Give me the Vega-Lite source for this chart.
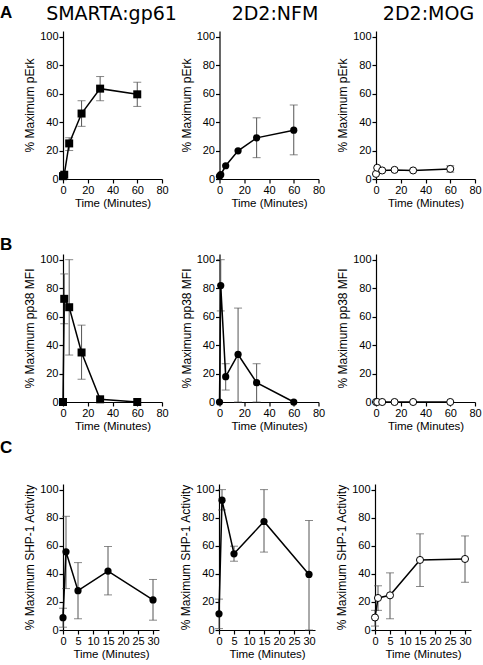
{
"$schema": "https://vega.github.io/schema/vega-lite/v6.json",
"padding": {"left": 0, "top": 3, "right": 2, "bottom": 2},
"datasets": {"d": [
{"p":"A1","t":0,"y":2},{"p":"A1","t":1,"y":3},{"p":"A1","t":5,"y":25,"lo":20,"hi":29},{"p":"A1","t":15,"y":46,"lo":37,"hi":55},{"p":"A1","t":30,"y":63.5,"lo":55,"hi":72},{"p":"A1","t":60,"y":59.5,"lo":51,"hi":68},
{"p":"A2","t":0,"y":2},{"p":"A2","t":1,"y":3},{"p":"A2","t":5,"y":9.3},{"p":"A2","t":15,"y":19.8},{"p":"A2","t":30,"y":28.9,"lo":15,"hi":43},{"p":"A2","t":60,"y":34.3,"lo":17,"hi":52},
{"p":"A3","t":0,"y":3.6},{"p":"A3","t":1,"y":7.9},{"p":"A3","t":5,"y":6},{"p":"A3","t":15,"y":6.4},{"p":"A3","t":30,"y":6},{"p":"A3","t":60,"y":7.1,"lo":4.8,"hi":9.3},
{"p":"B1","t":0,"y":0},{"p":"B1","t":1,"y":72.5,"lo":55,"hi":90},{"p":"B1","t":5,"y":66.6,"lo":33,"hi":100},{"p":"B1","t":15,"y":34.8,"lo":16,"hi":54},{"p":"B1","t":30,"y":1.9},{"p":"B1","t":60,"y":0},
{"p":"B2","t":0,"y":0},{"p":"B2","t":1,"y":81.8,"lo":64,"hi":100},{"p":"B2","t":5,"y":17.8,"lo":8.4,"hi":26.9},{"p":"B2","t":15,"y":33.4,"lo":0,"hi":66},{"p":"B2","t":30,"y":13.6,"lo":0,"hi":26.9},{"p":"B2","t":60,"y":0},
{"p":"B3","t":0,"y":0},{"p":"B3","t":1,"y":0},{"p":"B3","t":5,"y":0},{"p":"B3","t":15,"y":0},{"p":"B3","t":30,"y":0},{"p":"B3","t":60,"y":0},
{"p":"C1","t":0,"y":8.8,"lo":2,"hi":15.5},{"p":"C1","t":1,"y":55.7,"lo":29.5,"hi":81},{"p":"C1","t":5,"y":28,"lo":8,"hi":48},{"p":"C1","t":15,"y":42,"lo":25,"hi":59.5},{"p":"C1","t":30,"y":21.4,"lo":7,"hi":36},
{"p":"C2","t":0,"y":11.5,"lo":1,"hi":22},{"p":"C2","t":1,"y":92.5,"lo":85.5,"hi":100},{"p":"C2","t":5,"y":54.3,"lo":49,"hi":59.7},{"p":"C2","t":15,"y":77.3,"lo":55.5,"hi":100},{"p":"C2","t":30,"y":39.6,"lo":0,"hi":78},
{"p":"C3","t":0,"y":8.9,"lo":2.8,"hi":14},{"p":"C3","t":1,"y":22.8,"lo":14,"hi":31.5},{"p":"C3","t":5,"y":24.7,"lo":8,"hi":40.7},{"p":"C3","t":15,"y":49.9,"lo":31,"hi":68.5},{"p":"C3","t":30,"y":50.6,"lo":34,"hi":67}
]},
"vconcat": [
{
"hconcat": [
{"width":99,"height":148,"title":{"text":"SMARTA:gp61","frame":"group","dx":-1},"data":{"name":"d"},"transform":[{"filter":"datum.p==='A1'"}],
"encoding":{"x":{"field":"t","type":"quantitative","scale":{"domain":[0,80],"nice":false},"axis":{"values":[0,20,40,60,80],"title":"Time (Minutes)"}}},
"layer":[
{"transform":[{"filter":"isValid(datum.lo)"}],"mark":{"type":"rule","color":"#555","strokeWidth":1},"encoding":{"y":{"field":"lo","type":"quantitative","title":"% Maximum pErk","scale":{"domain":[0,104],"nice":false},"axis":{"values":[0,20,40,60,80,100]}},"y2":{"field":"hi"}}},
{"transform":[{"filter":"isValid(datum.lo)"}],"mark":{"type":"tick","orient":"horizontal","color":"#555","size":8,"thickness":1},"encoding":{"y":{"field":"lo","type":"quantitative","title":"% Maximum pErk","scale":{"domain":[0,104],"nice":false},"axis":{"values":[0,20,40,60,80,100]}}}},
{"transform":[{"filter":"isValid(datum.hi)"}],"mark":{"type":"tick","orient":"horizontal","color":"#555","size":8,"thickness":1},"encoding":{"y":{"field":"hi","type":"quantitative","title":"% Maximum pErk","scale":{"domain":[0,104],"nice":false},"axis":{"values":[0,20,40,60,80,100]}}}},
{"mark":{"type":"line","color":"#000","strokeWidth":1.5},"encoding":{"y":{"field":"y","type":"quantitative","title":"% Maximum pErk","scale":{"domain":[0,104],"nice":false},"axis":{"values":[0,20,40,60,80,100]}}}},
{"mark":{"type":"point","shape":"square","filled":true,"color":"#000","opacity":1,"size":64},"encoding":{"y":{"field":"y","type":"quantitative","title":"% Maximum pErk","scale":{"domain":[0,104],"nice":false},"axis":{"values":[0,20,40,60,80,100]}}}}
]},
{"width":99,"height":148,"title":{"text":"2D2:NFM","frame":"group","dx":6},"data":{"name":"d"},"transform":[{"filter":"datum.p==='A2'"}],
"encoding":{"x":{"field":"t","type":"quantitative","scale":{"domain":[0,80],"nice":false},"axis":{"values":[0,20,40,60,80],"title":"Time (Minutes)"}}},
"layer":[
{"transform":[{"filter":"isValid(datum.lo)"}],"mark":{"type":"rule","color":"#555","strokeWidth":1},"encoding":{"y":{"field":"lo","type":"quantitative","title":"% Maximum pErk","scale":{"domain":[0,104],"nice":false},"axis":{"values":[0,20,40,60,80,100]}},"y2":{"field":"hi"}}},
{"transform":[{"filter":"isValid(datum.lo)"}],"mark":{"type":"tick","orient":"horizontal","color":"#555","size":8,"thickness":1},"encoding":{"y":{"field":"lo","type":"quantitative","title":"% Maximum pErk","scale":{"domain":[0,104],"nice":false},"axis":{"values":[0,20,40,60,80,100]}}}},
{"transform":[{"filter":"isValid(datum.hi)"}],"mark":{"type":"tick","orient":"horizontal","color":"#555","size":8,"thickness":1},"encoding":{"y":{"field":"hi","type":"quantitative","title":"% Maximum pErk","scale":{"domain":[0,104],"nice":false},"axis":{"values":[0,20,40,60,80,100]}}}},
{"mark":{"type":"line","color":"#000","strokeWidth":1.5},"encoding":{"y":{"field":"y","type":"quantitative","title":"% Maximum pErk","scale":{"domain":[0,104],"nice":false},"axis":{"values":[0,20,40,60,80,100]}}}},
{"mark":{"type":"point","shape":"circle","filled":true,"color":"#000","opacity":1,"size":52},"encoding":{"y":{"field":"y","type":"quantitative","title":"% Maximum pErk","scale":{"domain":[0,104],"nice":false},"axis":{"values":[0,20,40,60,80,100]}}}}
]},
{"width":99,"height":148,"title":{"text":"2D2:MOG","frame":"group","dx":3},"data":{"name":"d"},"transform":[{"filter":"datum.p==='A3'"}],
"encoding":{"x":{"field":"t","type":"quantitative","scale":{"domain":[0,80],"nice":false},"axis":{"values":[0,20,40,60,80],"title":"Time (Minutes)"}}},
"layer":[
{"transform":[{"filter":"isValid(datum.lo)"}],"mark":{"type":"rule","color":"#555","strokeWidth":1},"encoding":{"y":{"field":"lo","type":"quantitative","title":"% Maximum pErk","scale":{"domain":[0,104],"nice":false},"axis":{"values":[0,20,40,60,80,100]}},"y2":{"field":"hi"}}},
{"transform":[{"filter":"isValid(datum.lo)"}],"mark":{"type":"tick","orient":"horizontal","color":"#555","size":8,"thickness":1},"encoding":{"y":{"field":"lo","type":"quantitative","title":"% Maximum pErk","scale":{"domain":[0,104],"nice":false},"axis":{"values":[0,20,40,60,80,100]}}}},
{"transform":[{"filter":"isValid(datum.hi)"}],"mark":{"type":"tick","orient":"horizontal","color":"#555","size":8,"thickness":1},"encoding":{"y":{"field":"hi","type":"quantitative","title":"% Maximum pErk","scale":{"domain":[0,104],"nice":false},"axis":{"values":[0,20,40,60,80,100]}}}},
{"mark":{"type":"line","color":"#000","strokeWidth":1.5},"encoding":{"y":{"field":"y","type":"quantitative","title":"% Maximum pErk","scale":{"domain":[0,104],"nice":false},"axis":{"values":[0,20,40,60,80,100]}}}},
{"mark":{"type":"point","shape":"circle","filled":true,"fill":"#fff","stroke":"#000","strokeWidth":1,"opacity":1,"size":50},"encoding":{"y":{"field":"y","type":"quantitative","title":"% Maximum pErk","scale":{"domain":[0,104],"nice":false},"axis":{"values":[0,20,40,60,80,100]}}}}
]}
],
"spacing": 57.5, "bounds": "flush",
"title": {"text":"A","orient":"left","angle":0,"anchor":"end","align":"right","baseline":"top","font":"Liberation Sans","fontSize":17,"fontWeight":"bold","offset":-1}
},
{
"vconcat": [
{
"hconcat": [
{"width":99,"height":148,"data":{"name":"d"},"transform":[{"filter":"datum.p==='B1'"}],
"encoding":{"x":{"field":"t","type":"quantitative","scale":{"domain":[0,80],"nice":false},"axis":{"values":[0,20,40,60,80],"title":"Time (Minutes)"}}},
"layer":[
{"transform":[{"filter":"isValid(datum.lo)"}],"mark":{"type":"rule","color":"#555","strokeWidth":1},"encoding":{"y":{"field":"lo","type":"quantitative","title":"% Maximum pp38 MFI","scale":{"domain":[0,104],"nice":false},"axis":{"values":[0,20,40,60,80,100]}},"y2":{"field":"hi"}}},
{"transform":[{"filter":"isValid(datum.lo)"}],"mark":{"type":"tick","orient":"horizontal","color":"#555","size":8,"thickness":1},"encoding":{"y":{"field":"lo","type":"quantitative","title":"% Maximum pp38 MFI","scale":{"domain":[0,104],"nice":false},"axis":{"values":[0,20,40,60,80,100]}}}},
{"transform":[{"filter":"isValid(datum.hi)"}],"mark":{"type":"tick","orient":"horizontal","color":"#555","size":8,"thickness":1},"encoding":{"y":{"field":"hi","type":"quantitative","title":"% Maximum pp38 MFI","scale":{"domain":[0,104],"nice":false},"axis":{"values":[0,20,40,60,80,100]}}}},
{"mark":{"type":"line","color":"#000","strokeWidth":1.5},"encoding":{"y":{"field":"y","type":"quantitative","title":"% Maximum pp38 MFI","scale":{"domain":[0,104],"nice":false},"axis":{"values":[0,20,40,60,80,100]}}}},
{"mark":{"type":"point","shape":"square","filled":true,"color":"#000","opacity":1,"size":64},"encoding":{"y":{"field":"y","type":"quantitative","title":"% Maximum pp38 MFI","scale":{"domain":[0,104],"nice":false},"axis":{"values":[0,20,40,60,80,100]}}}}
]},
{"width":99,"height":148,"data":{"name":"d"},"transform":[{"filter":"datum.p==='B2'"}],
"encoding":{"x":{"field":"t","type":"quantitative","scale":{"domain":[0,80],"nice":false},"axis":{"values":[0,20,40,60,80],"title":"Time (Minutes)"}}},
"layer":[
{"transform":[{"filter":"isValid(datum.lo)"}],"mark":{"type":"rule","color":"#555","strokeWidth":1},"encoding":{"y":{"field":"lo","type":"quantitative","title":"% Maximum pp38 MFI","scale":{"domain":[0,104],"nice":false},"axis":{"values":[0,20,40,60,80,100]}},"y2":{"field":"hi"}}},
{"transform":[{"filter":"isValid(datum.lo)"}],"mark":{"type":"tick","orient":"horizontal","color":"#555","size":8,"thickness":1},"encoding":{"y":{"field":"lo","type":"quantitative","title":"% Maximum pp38 MFI","scale":{"domain":[0,104],"nice":false},"axis":{"values":[0,20,40,60,80,100]}}}},
{"transform":[{"filter":"isValid(datum.hi)"}],"mark":{"type":"tick","orient":"horizontal","color":"#555","size":8,"thickness":1},"encoding":{"y":{"field":"hi","type":"quantitative","title":"% Maximum pp38 MFI","scale":{"domain":[0,104],"nice":false},"axis":{"values":[0,20,40,60,80,100]}}}},
{"mark":{"type":"line","color":"#000","strokeWidth":1.5},"encoding":{"y":{"field":"y","type":"quantitative","title":"% Maximum pp38 MFI","scale":{"domain":[0,104],"nice":false},"axis":{"values":[0,20,40,60,80,100]}}}},
{"mark":{"type":"point","shape":"circle","filled":true,"color":"#000","opacity":1,"size":52},"encoding":{"y":{"field":"y","type":"quantitative","title":"% Maximum pp38 MFI","scale":{"domain":[0,104],"nice":false},"axis":{"values":[0,20,40,60,80,100]}}}}
]},
{"width":99,"height":148,"data":{"name":"d"},"transform":[{"filter":"datum.p==='B3'"}],
"encoding":{"x":{"field":"t","type":"quantitative","scale":{"domain":[0,80],"nice":false},"axis":{"values":[0,20,40,60,80],"title":"Time (Minutes)"}}},
"layer":[
{"mark":{"type":"line","color":"#000","strokeWidth":1.5},"encoding":{"y":{"field":"y","type":"quantitative","title":"% Maximum pp38 MFI","scale":{"domain":[0,104],"nice":false},"axis":{"values":[0,20,40,60,80,100]}}}},
{"mark":{"type":"point","shape":"circle","filled":true,"fill":"#fff","stroke":"#000","strokeWidth":1,"opacity":1,"size":50},"encoding":{"y":{"field":"y","type":"quantitative","title":"% Maximum pp38 MFI","scale":{"domain":[0,104],"nice":false},"axis":{"values":[0,20,40,60,80,100]}}}}
]}
],
"spacing": 57.5, "bounds": "flush",
"title": {"text":"B","orient":"left","angle":0,"anchor":"end","align":"right","baseline":"top","font":"Liberation Sans","fontSize":17,"fontWeight":"bold","offset":-1,"dy":-17}
},
{
"hconcat": [
{"width":96,"height":146,"data":{"name":"d"},"transform":[{"filter":"datum.p==='C1'"}],
"encoding":{"x":{"field":"t","type":"quantitative","scale":{"domain":[0,32],"nice":false},"axis":{"values":[0,5,10,15,20,25,30],"title":"Time (Minutes)"}}},
"layer":[
{"transform":[{"filter":"isValid(datum.lo)"}],"mark":{"type":"rule","color":"#555","strokeWidth":1},"encoding":{"y":{"field":"lo","type":"quantitative","title":"% Maximum SHP-1 Activity","scale":{"domain":[0,104],"nice":false},"axis":{"values":[0,20,40,60,80,100]}},"y2":{"field":"hi"}}},
{"transform":[{"filter":"isValid(datum.lo)"}],"mark":{"type":"tick","orient":"horizontal","color":"#555","size":8,"thickness":1},"encoding":{"y":{"field":"lo","type":"quantitative","title":"% Maximum SHP-1 Activity","scale":{"domain":[0,104],"nice":false},"axis":{"values":[0,20,40,60,80,100]}}}},
{"transform":[{"filter":"isValid(datum.hi)"}],"mark":{"type":"tick","orient":"horizontal","color":"#555","size":8,"thickness":1},"encoding":{"y":{"field":"hi","type":"quantitative","title":"% Maximum SHP-1 Activity","scale":{"domain":[0,104],"nice":false},"axis":{"values":[0,20,40,60,80,100]}}}},
{"mark":{"type":"line","color":"#000","strokeWidth":1.5},"encoding":{"y":{"field":"y","type":"quantitative","title":"% Maximum SHP-1 Activity","scale":{"domain":[0,104],"nice":false},"axis":{"values":[0,20,40,60,80,100]}}}},
{"mark":{"type":"point","shape":"circle","filled":true,"color":"#000","opacity":1,"size":52},"encoding":{"y":{"field":"y","type":"quantitative","title":"% Maximum SHP-1 Activity","scale":{"domain":[0,104],"nice":false},"axis":{"values":[0,20,40,60,80,100]}}}}
]},
{"width":96,"height":146,"data":{"name":"d"},"transform":[{"filter":"datum.p==='C2'"}],
"encoding":{"x":{"field":"t","type":"quantitative","scale":{"domain":[0,32],"nice":false},"axis":{"values":[0,5,10,15,20,25,30],"title":"Time (Minutes)"}}},
"layer":[
{"transform":[{"filter":"isValid(datum.lo)"}],"mark":{"type":"rule","color":"#555","strokeWidth":1},"encoding":{"y":{"field":"lo","type":"quantitative","title":"% Maximum SHP-1 Activity","scale":{"domain":[0,104],"nice":false},"axis":{"values":[0,20,40,60,80,100]}},"y2":{"field":"hi"}}},
{"transform":[{"filter":"isValid(datum.lo)"}],"mark":{"type":"tick","orient":"horizontal","color":"#555","size":8,"thickness":1},"encoding":{"y":{"field":"lo","type":"quantitative","title":"% Maximum SHP-1 Activity","scale":{"domain":[0,104],"nice":false},"axis":{"values":[0,20,40,60,80,100]}}}},
{"transform":[{"filter":"isValid(datum.hi)"}],"mark":{"type":"tick","orient":"horizontal","color":"#555","size":8,"thickness":1},"encoding":{"y":{"field":"hi","type":"quantitative","title":"% Maximum SHP-1 Activity","scale":{"domain":[0,104],"nice":false},"axis":{"values":[0,20,40,60,80,100]}}}},
{"mark":{"type":"line","color":"#000","strokeWidth":1.5},"encoding":{"y":{"field":"y","type":"quantitative","title":"% Maximum SHP-1 Activity","scale":{"domain":[0,104],"nice":false},"axis":{"values":[0,20,40,60,80,100]}}}},
{"mark":{"type":"point","shape":"circle","filled":true,"color":"#000","opacity":1,"size":52},"encoding":{"y":{"field":"y","type":"quantitative","title":"% Maximum SHP-1 Activity","scale":{"domain":[0,104],"nice":false},"axis":{"values":[0,20,40,60,80,100]}}}}
]},
{"width":96,"height":146,"data":{"name":"d"},"transform":[{"filter":"datum.p==='C3'"}],
"encoding":{"x":{"field":"t","type":"quantitative","scale":{"domain":[0,32],"nice":false},"axis":{"values":[0,5,10,15,20,25,30],"title":"Time (Minutes)"}}},
"layer":[
{"transform":[{"filter":"isValid(datum.lo)"}],"mark":{"type":"rule","color":"#555","strokeWidth":1},"encoding":{"y":{"field":"lo","type":"quantitative","title":"% Maximum SHP-1 Activity","scale":{"domain":[0,104],"nice":false},"axis":{"values":[0,20,40,60,80,100]}},"y2":{"field":"hi"}}},
{"transform":[{"filter":"isValid(datum.lo)"}],"mark":{"type":"tick","orient":"horizontal","color":"#555","size":8,"thickness":1},"encoding":{"y":{"field":"lo","type":"quantitative","title":"% Maximum SHP-1 Activity","scale":{"domain":[0,104],"nice":false},"axis":{"values":[0,20,40,60,80,100]}}}},
{"transform":[{"filter":"isValid(datum.hi)"}],"mark":{"type":"tick","orient":"horizontal","color":"#555","size":8,"thickness":1},"encoding":{"y":{"field":"hi","type":"quantitative","title":"% Maximum SHP-1 Activity","scale":{"domain":[0,104],"nice":false},"axis":{"values":[0,20,40,60,80,100]}}}},
{"mark":{"type":"line","color":"#000","strokeWidth":1.5},"encoding":{"y":{"field":"y","type":"quantitative","title":"% Maximum SHP-1 Activity","scale":{"domain":[0,104],"nice":false},"axis":{"values":[0,20,40,60,80,100]}}}},
{"mark":{"type":"point","shape":"circle","filled":true,"fill":"#fff","stroke":"#000","strokeWidth":1,"opacity":1,"size":50},"encoding":{"y":{"field":"y","type":"quantitative","title":"% Maximum SHP-1 Activity","scale":{"domain":[0,104],"nice":false},"axis":{"values":[0,20,40,60,80,100]}}}}
]}
],
"spacing": 60, "bounds": "flush",
"title": {"text":"C","orient":"left","angle":0,"anchor":"end","align":"right","baseline":"top","font":"Liberation Sans","fontSize":17,"fontWeight":"bold","offset":-1,"dy":-44}
}
],
"spacing": 6
}
],
"spacing": 26,
"config": {
"font": "Liberation Sans",
"view": {"stroke": null},
"axis": {"grid": false, "domainColor": "#000", "domainWidth": 1.2, "tickColor": "#000", "tickWidth": 1.2, "tickSize": 4, "labelColor": "#000", "labelFontSize": 11, "labelPadding": 1, "labelFlush": false, "labelOverlap": false, "titleColor": "#000", "titleFontSize": 11.5, "titleFontWeight": "normal"},
"axisY": {"titlePadding": 3, "titleFontSize": 12},
"axisX": {"titlePadding": 2},
"title": {"font": "DejaVu Sans", "fontSize": 19, "fontWeight": "normal", "color": "#000", "offset": 7}
}
}
